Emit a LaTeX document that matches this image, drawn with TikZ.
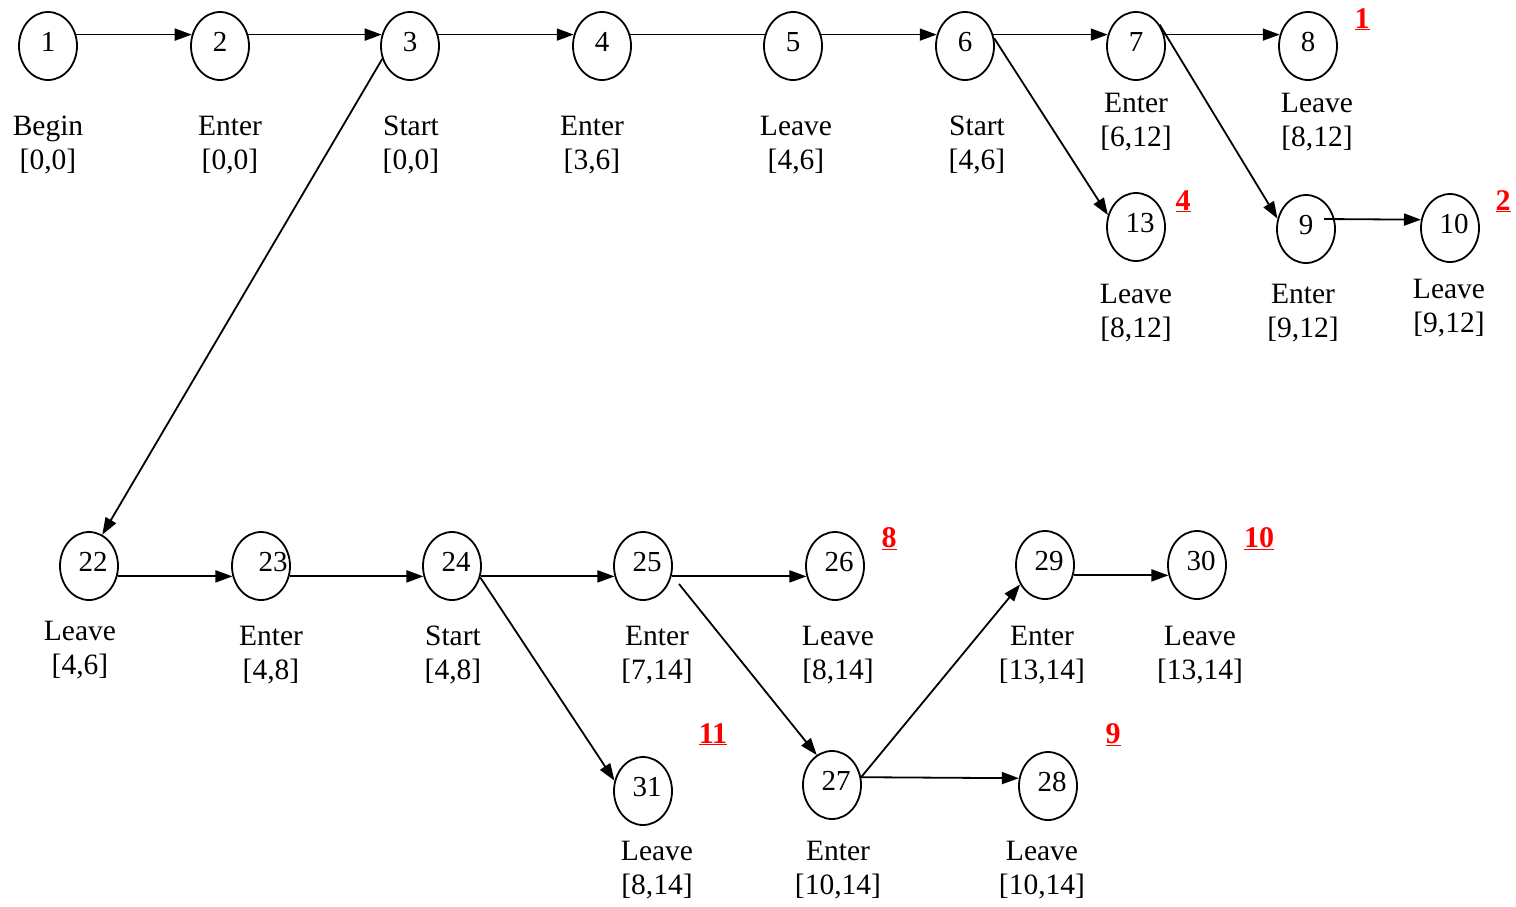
\documentclass[tikz,border=0pt]{standalone}
\usepackage{fontspec}
\setmainfont{Liberation Serif}
\usetikzlibrary{shapes.geometric,arrows.meta,calc}
\begin{document}
\begin{tikzpicture}[x=1pt,y=-1pt,
  st/.style={ellipse,draw,line width=1.8pt,minimum width=58pt,minimum height=68pt,inner sep=0pt,font=\fontsize{29}{32}\selectfont},
  lbl/.style={align=center,font=\fontsize{29.5}{34}\selectfont,inner sep=0pt},
  mk/.style={anchor=base,text=red,font=\fontsize{30}{32}\selectfont\bfseries,inner sep=0pt},
  conn/.style={line width=1.8pt,-{Triangle[length=17pt,width=12pt]}},
  plain/.style={line width=1.8pt}]
\useasboundingbox (0,0) rectangle (1516,906);
\newcommand{\nm}[2][0pt]{\raisebox{8pt}{\makebox[0pt]{\hspace{#1}#2}}}
% states
\node[st] (n1) at (48,46) {\nm{1}};
\node[st] (n2) at (220,46) {\nm{2}};
\node[st] (n3) at (410,46) {\nm{3}};
\node[st] (n4) at (602,46) {\nm{4}};
\node[st] (n5) at (793,46) {\nm{5}};
\node[st] (n6) at (965,46) {\nm{6}};
\node[st] (n7) at (1136,46) {\nm{7}};
\node[st] (n8) at (1308,46) {\nm{8}};
\node[st] (n13) at (1136,227) {\nm[8pt]{13}};
\node[st] (n9) at (1306,229) {\nm{9}};
\node[st] (n10) at (1450,228) {\nm[8pt]{10}};
\node[st] (n22) at (89,566) {\nm[8pt]{22}};
\node[st] (n23) at (261,566) {\nm[24pt]{23}};
\node[st] (n24) at (452,566) {\nm[8pt]{24}};
\node[st] (n25) at (643,566) {\nm[8pt]{25}};
\node[st] (n26) at (835,566) {\nm[8pt]{26}};
\node[st] (n29) at (1045,565) {\nm[8pt]{29}};
\node[st] (n30) at (1197,565) {\nm[8pt]{30}};
\node[st] (n31) at (643,791) {\nm[8pt]{31}};
\node[st] (n27) at (832,785) {\nm[8pt]{27}};
\node[st] (n28) at (1048,786) {\nm[8pt]{28}};
% labels
\node[lbl] (l1) at (48,145) {Begin\\{[0,0]}};
\node[lbl] (l2) at (230,145) {Enter\\{[0,0]}};
\node[lbl] (l3) at (411,145) {Start\\{[0,0]}};
\node[lbl] (l4) at (592,145) {Enter\\{[3,6]}};
\node[lbl] (l5) at (796,145) {Leave\\{[4,6]}};
\node[lbl] (l6) at (977,145) {Start\\{[4,6]}};
\node[lbl] (l7) at (1136,122) {Enter\\{[6,12]}};
\node[lbl] (l8) at (1317,122) {Leave\\{[8,12]}};
\node[lbl] (l13) at (1136,313) {Leave\\{[8,12]}};
\node[lbl] (l9) at (1303,313) {Enter\\{[9,12]}};
\node[lbl] (l10) at (1449,308) {Leave\\{[9,12]}};
\node[lbl] (l22) at (80,650) {Leave\\{[4,6]}};
\node[lbl] (l23) at (271,655) {Enter\\{[4,8]}};
\node[lbl] (l24) at (453,655) {Start\\{[4,8]}};
\node[lbl] (l25) at (657,655) {Enter\\{[7,14]}};
\node[lbl] (l26) at (838,655) {Leave\\{[8,14]}};
\node[lbl] (l29) at (1042,655) {Enter\\{[13,14]}};
\node[lbl] (l30) at (1200,655) {Leave\\{[13,14]}};
\node[lbl] (l31) at (657,870) {Leave\\{[8,14]}};
\node[lbl] (l27) at (838,870) {Enter\\{[10,14]}};
\node[lbl] (l28) at (1042,870) {Leave\\{[10,14]}};
% red marks
\node[mk] (m1) at (1362,28) {\underline{1}};
\node[mk] (m4) at (1183,210) {\underline{4}};
\node[mk] (m2) at (1503,210) {\underline{2}};
\node[mk] (m8) at (889,547) {\underline{8}};
\node[mk] (m10) at (1259,547) {\underline{10}};
\node[mk] (m11) at (713,743) {\underline{11}};
\node[mk] (m9) at (1113,743) {\underline{9}};
% helper coordinates
\coordinate (s25) at ($(n25)+(36,18)$);
\coordinate (s9) at ($(n9)+(18,-10)$);
% connectors
\draw[conn] (n1.22) -- (n2.158);
\draw[conn] (n2.22) -- (n3.158);
\draw[conn] (n3.22) -- (n4.158);
\draw[plain] (n4.22) -- (n5.158);
\draw[conn] (n5.22) -- (n6.158);
\draw[conn] (n6.22) -- (n7.158);
\draw[conn] (n7.22) -- (n8.158);
\draw[conn] (n6.15) -- (n13.157);
\draw[conn] (n7.42) -- (n9.160);
\draw[conn] (s9) -- (n10.164);
\draw[conn] (n3.205) -- (n22.67);
\draw[conn] (n22.-20) -- (n23.200);
\draw[conn] (n23.-20) -- (n24.200);
\draw[conn] (n24.-20) -- (n25.200);
\draw[conn] (n25.-20) -- (n26.200);
\draw[conn] (n29.-20) -- (n30.200);
\draw[conn] (n24.-22) -- (n31.160);
\draw[conn] (s25) -- (n27.117);
\draw[conn] (n27.15) -- (n29.218);
\draw[conn] (n27.15) -- (n28.165);
\end{tikzpicture}
\end{document}
